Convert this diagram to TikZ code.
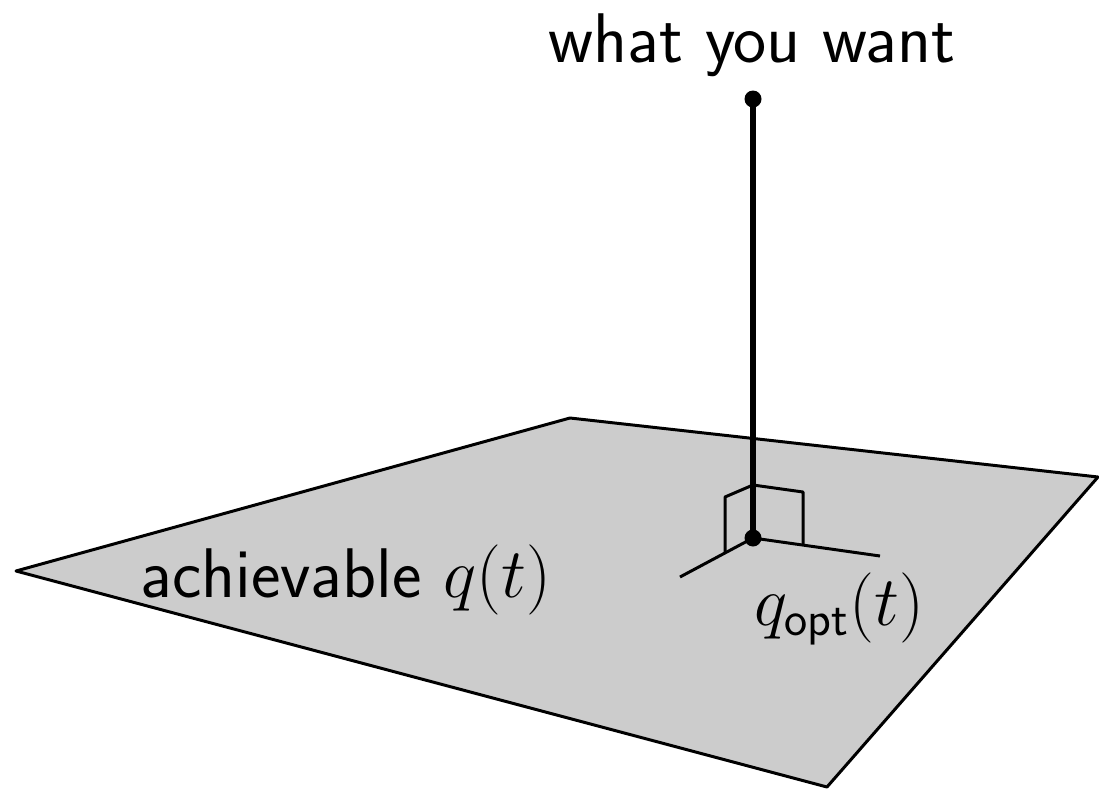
\RequirePackage{fix-cm}
\documentclass[tikz,border=0pt]{standalone}
\usepackage{amsmath}
\usepackage{tikz}
\usetikzlibrary{positioning}
\definecolor{planegray}{RGB}{204,204,204}
\begin{document}
\begin{tikzpicture}[x=0.02cm, y=-0.02cm, line join=round]
\tikzset{
  planeedge/.style={draw=black, line width=1.7pt, fill=planegray},
  thinline/.style={line width=1.7pt},
  normalline/.style={line width=3.4pt},
  bigtext/.style={font=\sffamily\fontsize{40}{48}\selectfont, inner sep=0pt},
}
\useasboundingbox (0,0) rectangle (1099,791);

% the achievable plane
\coordinate (left) at (16,571);
\coordinate (back) at (570,418);
\coordinate (right) at (1098,477);
\coordinate (front) at (827,787);
\draw[planeedge] (left) -- (back) -- (right) -- (front) -- cycle;

% projection point and in-plane directions
\coordinate (foot) at (753,538);
\coordinate (want) at (753,99);
\coordinate (axleft) at (680,577);
\coordinate (axright) at (880,556);
\draw[thinline] (axleft) -- (foot) -- (axright);

% right angle marker
\draw[thinline] (725,553) -- (725,497) -- (753,485) -- (803,492) -- (803,545);

% normal from the plane up to the target
\draw[normalline] (foot) -- (want);
\fill (foot) circle (0.17cm);
\fill (want) circle (0.17cm);

% labels
\node[bigtext, anchor=base] (wanttext) at (752,62) {what you want};
\node[bigtext, anchor=base west] (achtext) at (140,597) {achievable $q(t)$};
\node[bigtext, anchor=base west] (opttext) at (754,625) {$q_{\textsf{opt}}(t)$};

\end{tikzpicture}
\end{document}
